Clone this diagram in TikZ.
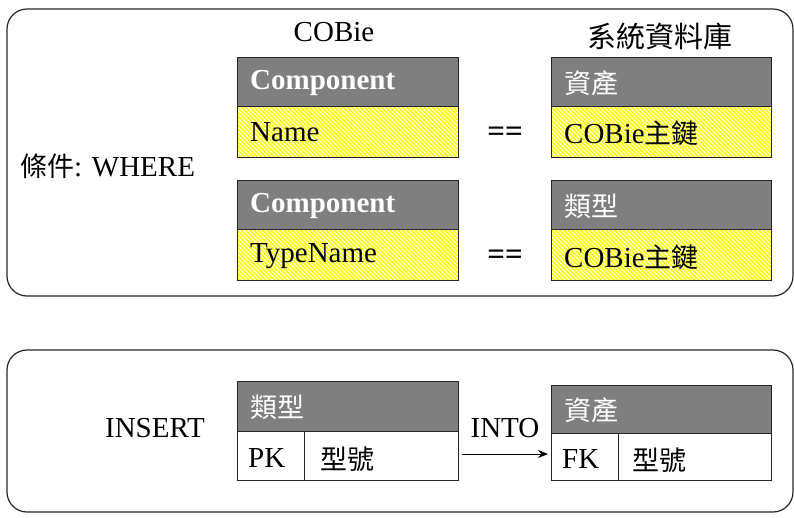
\documentclass[tikz,border=0pt]{standalone}
\usepackage{fontspec}
\setmainfont{Liberation Serif}
\newfontfamily\cjk{Noto Sans CJK TC}
\usetikzlibrary{patterns.meta,arrows.meta}
\definecolor{hdrgray}{HTML}{7F7F7F}
\definecolor{bodyyel}{HTML}{FFFF00}
\tikzset{
  x=1pt,y=-1pt,
  outerbox/.style={draw=black!85,line width=1.2pt,rounded corners=20pt},
  hdr/.style={draw=black!85,line width=1pt,fill=hdrgray},
  bodyhatch/.style={draw=black!85,line width=1pt,preaction={fill=bodyyel},preaction={pattern={Lines[angle=-45,distance=3pt,line width=1pt]},pattern color=white}},
  bodyplain/.style={draw=black!85,line width=1pt,fill=white},
  txt/.style={font=\fontsize{29}{32}\selectfont,inner sep=0pt},
  cjktxt/.style={font=\fontsize{29}{32}\selectfont\cjk,inner sep=0pt},
  htxt/.style={font=\fontsize{29}{32}\selectfont\bfseries,text=white,inner sep=0pt,anchor=west},
  hcjk/.style={font=\fontsize{27}{32}\selectfont\cjk,text=white,inner sep=0pt,anchor=west},
  btxt/.style={font=\fontsize{29}{32}\selectfont,inner sep=0pt,anchor=west},
  bcjk/.style={font=\fontsize{27}{32}\selectfont\cjk,inner sep=0pt,anchor=west},
  eqtxt/.style={font=\fontsize{31}{32}\selectfont\bfseries,inner sep=0pt},
}
\newcommand{\cj}[1]{{\cjk\fontsize{27}{32}\selectfont #1}}
\begin{document}
\begin{tikzpicture}
\useasboundingbox (0,0) rectangle (794,517);
% outer boxes
\draw[outerbox] (7,9) rectangle (793,296);
\draw[outerbox] (7,350) rectangle (793,512);
% titles
\node[txt] (tcobie) at (334,32) {COBie};
\node[cjktxt] (tsys) at (660,36) {系統資料庫};
\node[txt,anchor=west] (tcond) at (20,166) {\cj{條件}: WHERE};
% left table 1
\draw[hdr] (237,57) rectangle (458,106);
\draw[bodyhatch] (237,106) rectangle (458,157);
\node[htxt] (h1) at (250,83) {Component};
\node[btxt] (b1) at (250,132) {Name};
% left table 2
\draw[hdr] (237,180) rectangle (458,229);
\draw[bodyhatch] (237,229) rectangle (458,280);
\node[htxt] (h2) at (250,206) {Component};
\node[btxt] (b2) at (250,256) {TypeName};
% right table 1
\draw[hdr] (551,57) rectangle (771,106);
\draw[bodyhatch] (551,106) rectangle (771,157);
\node[hcjk] (h3) at (564,83) {資產};
\node[btxt] (b3) at (564,133) {COBie\cj{主鍵}};
% right table 2
\draw[hdr] (551,180) rectangle (771,229);
\draw[bodyhatch] (551,229) rectangle (771,280);
\node[hcjk] (h4) at (564,206) {類型};
\node[btxt] (b4) at (564,257) {COBie\cj{主鍵}};
% equals
\node[eqtxt] (eq1) at (505,134) {==};
\node[eqtxt] (eq2) at (505,257) {==};
% bottom
\node[txt] (tins) at (155,428) {INSERT};
\draw[hdr] (237,381) rectangle (458,431);
\draw[bodyplain] (237,431) rectangle (458,480);
\draw[black!85,line width=1pt] (304,431) -- (304,480);
\node[hcjk] (h5) at (250,407) {類型};
\node[btxt] (pk) at (248,458) {PK};
\node[bcjk] (x1) at (320,459) {型號};
\draw[hdr] (551,385) rectangle (771,433);
\draw[bodyplain] (551,433) rectangle (771,480);
\draw[black!85,line width=1pt] (618,433) -- (618,480);
\node[hcjk] (h6) at (564,410) {資產};
\node[btxt] (fk) at (562,459) {FK};
\node[bcjk] (x2) at (632,460) {型號};
\node[txt] (into) at (505,428) {INTO};
\coordinate (a1) at (462,454);
\coordinate (a2) at (548,454);
\draw[line width=1pt,-{Stealth[length=10pt,width=8pt]}] (a1) -- (a2);
\end{tikzpicture}
\end{document}
